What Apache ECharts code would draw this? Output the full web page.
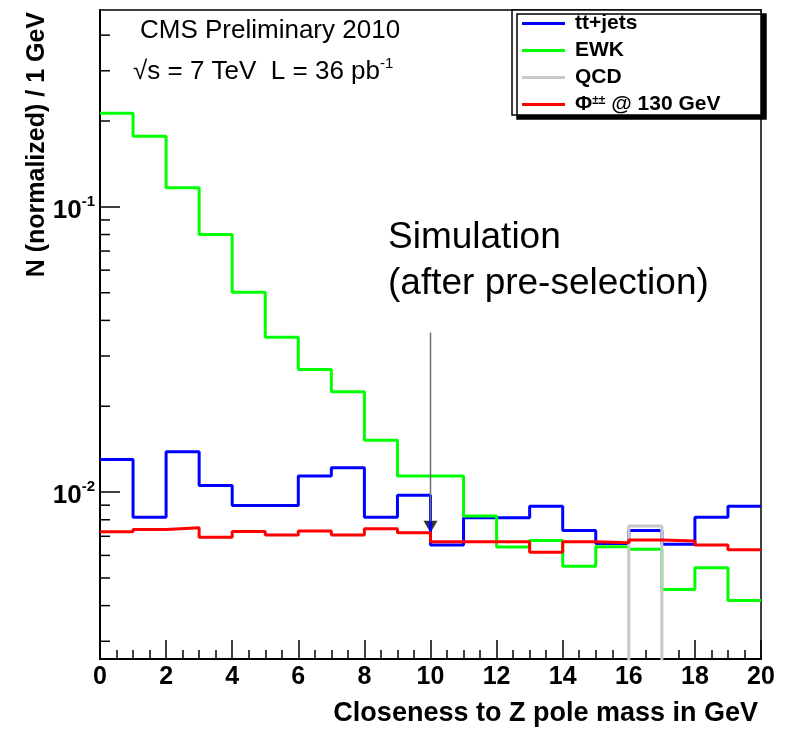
<!DOCTYPE html>
<html lang="en">
  <head>
    <meta charset="UTF-8">
    <title>Closeness to Z pole mass</title>
    <script src="https://cdn.jsdelivr.net/npm/echarts@6/dist/echarts.min.js"></script>
    <style>
      html, body { margin: 0; padding: 0; background: #fff; }
      #chart { width: 791px; height: 729px; }
    </style>
  </head>
  <body>
    <div id="chart"></div>
  </body>
  <script>
    // bin edges (GeV), 20 bins of 1 GeV
    const xEdges = [0, 1, 2, 3, 4, 5, 6, 7, 8, 9, 10, 11, 12, 13, 14, 15, 16, 17, 18, 19, 20]
    // normalised contents per bin
    const ttjets = [0.01302, 0.00817, 0.01385, 0.01055, 0.00898, 0.00898, 0.01138, 0.01218, 0.00817, 0.00976,
      0.00653, 0.00813, 0.00813, 0.00893, 0.00734, 0.00660, 0.00734, 0.00656, 0.00817, 0.00893]
    const ewk = [0.213, 0.177, 0.1166, 0.080, 0.0502, 0.0349, 0.0269, 0.0225, 0.0152, 0.0114,
      0.0114, 0.00824, 0.00642, 0.00677, 0.0055, 0.00644, 0.0063, 0.00456, 0.00543, 0.00417]
    const qcd = [0, 0, 0, 0, 0, 0, 0, 0, 0, 0, 0, 0, 0, 0, 0, 0, 0.0076, 0, 0, 0]
    const phi = [0.00726, 0.0074, 0.0075, 0.00694, 0.00728, 0.00707, 0.0073, 0.00707, 0.00744, 0.00721,
      0.0067, 0.0067, 0.0067, 0.00616, 0.0067, 0.00665, 0.00679, 0.00674, 0.00652, 0.00628]
    // y axis range and minor ticks (log)
    const yMin = 0.0026
    const yMax = 0.49
    const yMinorTicks = [0.003, 0.004, 0.005, 0.006, 0.007, 0.008, 0.009,
      0.02, 0.03, 0.04, 0.05, 0.06, 0.07, 0.08, 0.09, 0.2, 0.3, 0.4]
    // cut arrow at 10 GeV
    const arrowX = 10
    const arrowTop = 0.0363
    const arrowEnd = 0.0079
    const arrowHead = 0.00756

    const font = '"Liberation Sans", Arial, Helvetica, sans-serif'
    const belowAxis = yMin / 3 // empty bins sit under the frame and get clipped

    function steps(vals) {
      const d = vals.map((v, i) => [xEdges[i], v > 0 ? v : belowAxis])
      d.push([xEdges[xEdges.length - 1], d[d.length - 1][1]])
      return d
    }

    function histo(name, vals, color) {
      return {
        name: name,
        type: 'line',
        step: 'end',
        data: steps(vals),
        color: color,
        showSymbol: false,
        symbol: 'none',
        clip: true,
        lineStyle: { width: 3, color: color },
        silent: true
      }
    }

    const chart = echarts.init(document.getElementById('chart'))
    chart.setOption({
      backgroundColor: '#fff',
      animation: false,
      grid: { left: 100, right: 30, top: 10, bottom: 70, show: true, borderColor: '#000', borderWidth: 1.5, backgroundColor: 'transparent' },
      xAxis: {
        type: 'value', min: 0, max: 20, interval: 2,
        axisLine: { lineStyle: { color: '#000', width: 2 } },
        axisTick: { inside: true, length: 19, lineStyle: { color: '#000', width: 1.5 } },
        minorTick: { show: true, splitNumber: 4, length: 9, lineStyle: { color: '#000', width: 1.5 } },
        axisLabel: { fontFamily: font, fontSize: 25, fontWeight: 'bold', color: '#000', margin: 6 },
        splitLine: { show: false }
      },
      yAxis: {
        type: 'log', logBase: 10, min: yMin, max: yMax,
        axisLine: { lineStyle: { color: '#000', width: 2 } },
        axisTick: { inside: true, length: 20, lineStyle: { color: '#000', width: 1.5 } },
        axisLabel: {
          margin: 5, showMinLabel: false, showMaxLabel: false,
          formatter: v => {
            const e = Math.log10(v)
            if (Math.abs(e - Math.round(e)) > 1e-6) return ''
            return '{b|10}{s|' + Math.round(e) + '}'
          },
          rich: {
            b: { fontFamily: font, fontSize: 26, fontWeight: 'bold', color: '#000', lineHeight: 26, padding: [8, 0, 0, 0] },
            s: { fontFamily: font, fontSize: 15, fontWeight: 'bold', color: '#000', lineHeight: 15, verticalAlign: 'top' }
          }
        },
        splitLine: { show: false }
      },
      legend: {
        data: ['tt+jets', 'EWK', 'QCD', 'Φ'],
        orient: 'vertical', left: 522, top: 13, padding: 0,
        itemWidth: 43, itemHeight: 3, itemGap: 6, icon: 'rect',
        selectedMode: false, z: 10,
        formatter: name => name === 'Φ' ? '{p|Φ}{sp|±±}{t| @ 130 GeV}' : name,
        textStyle: {
          fontFamily: font, fontSize: 21, fontWeight: 'bold', color: '#000', lineHeight: 20, padding: [0, 0, 0, 5],
          rich: {
            p: { fontFamily: font, fontSize: 21, color: '#000', lineHeight: 20 },
            sp: { fontFamily: font, fontSize: 12, color: '#000', lineHeight: 12, verticalAlign: 'top' },
            t: { fontFamily: font, fontSize: 21, fontWeight: 'bold', color: '#000', lineHeight: 20 }
          }
        }
      },
      graphic: [
        {
          type: 'rect', z: 5, silent: true,
          shape: { x: 512, y: 10, width: 249, height: 105 },
          style: { fill: '#fff', stroke: '#000', lineWidth: 1.5, shadowColor: '#000', shadowOffsetX: 5, shadowOffsetY: 4, shadowBlur: 0 }
        },
        {
          type: 'text', x: 140, y: 31,
          style: { text: 'CMS Preliminary 2010', font: '26px ' + font, fill: '#000', textVerticalAlign: 'middle' }
        },
        {
          type: 'text', x: 133, y: 69,
          style: {
            text: '{n|√s = 7 TeV  L = 36 pb}{s|-1}', textVerticalAlign: 'middle',
            rich: {
              n: { fontFamily: font, fontSize: 26, fill: '#000', lineHeight: 26, padding: [6, 0, 0, 0] },
              s: { fontFamily: font, fontSize: 15, fill: '#000', lineHeight: 15, verticalAlign: 'top' }
            }
          }
        },
        {
          type: 'text', x: 388, y: 238,
          style: { text: 'Simulation', font: '37px ' + font, fill: '#000', textVerticalAlign: 'middle' }
        },
        {
          type: 'text', x: 388, y: 284,
          style: { text: '(after pre-selection)', font: '37px ' + font, fill: '#000', textVerticalAlign: 'middle' }
        },
        {
          type: 'text', x: 758, y: 714,
          style: { text: 'Closeness to Z pole mass in GeV', font: 'bold 27px ' + font, fill: '#000', textAlign: 'right', textVerticalAlign: 'middle' }
        },
        {
          type: 'text', x: 37, y: 12, rotation: Math.PI / 2,
          style: { text: 'N (normalized) / 1 GeV', font: 'bold 25px ' + font, fill: '#000', textAlign: 'right', textVerticalAlign: 'middle' }
        }
      ],
      series: [
        histo('tt+jets', ttjets, '#0000ff'),
        histo('EWK', ewk, '#00ff00'),
        histo('QCD', qcd, '#c8c8c8'),
        histo('Φ', phi, '#ff0000'),
        {
          name: 'arrow', type: 'line', data: [[arrowX, arrowTop], [arrowX, arrowEnd]],
          showSymbol: false, symbol: 'none', silent: true,
          lineStyle: { color: '#707070', width: 1.5 }
        },
        {
          name: 'arrowHead', type: 'scatter', data: [[arrowX, arrowHead]],
          symbol: 'triangle', symbolRotate: 180, symbolSize: [14, 12], silent: true,
          itemStyle: { color: '#000' }
        },
        {
          name: 'yMinor', type: 'custom', silent: true,
          data: yMinorTicks.map(v => [0, v]),
          encode: { x: 0, y: 1 },
          renderItem: (params, api) => {
            const p = api.coord([api.value(0), api.value(1)])
            return {
              type: 'line',
              shape: { x1: p[0], y1: p[1], x2: p[0] + 10, y2: p[1] },
              style: { stroke: '#000', lineWidth: 1.5 }
            }
          }
        }
      ]
    })
  </script>
</html>
